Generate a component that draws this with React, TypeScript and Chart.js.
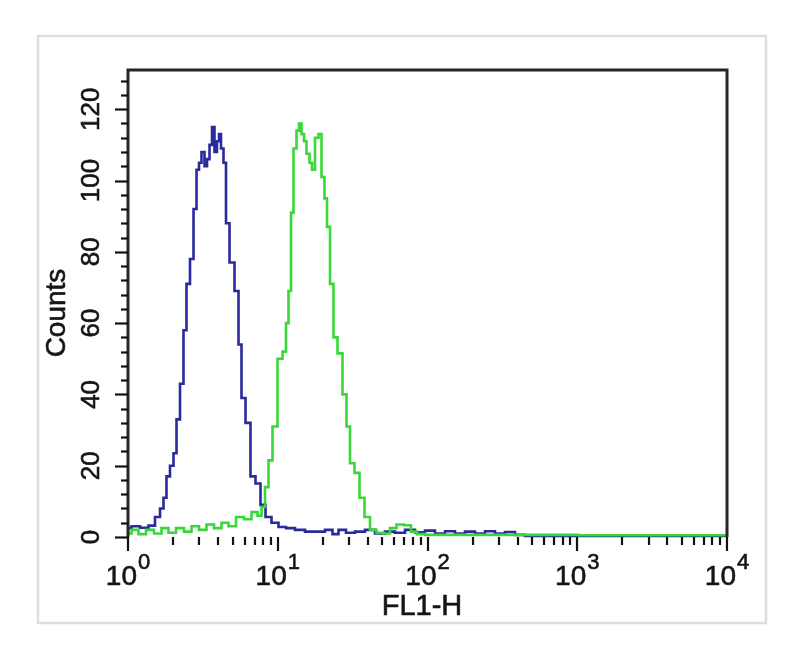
import React, { useEffect, useRef } from "react";
import { Chart, registerables } from "chart.js";

Chart.register(...registerables);

// FL1-H channel values (log axis) and counts
const blueX = [1.0, 1.114, 1.299, 1.446, 1.586, 1.687, 1.766, 1.849, 1.967, 2.06, 2.158, 2.294, 2.402, 2.516, 2.675, 2.803, 2.935, 3.026, 3.168, 3.318, 3.422, 3.584, 3.695, 3.869, 3.99, 4.115, 4.243, 4.444, 4.583, 4.95, 5.345, 5.597, 5.861, 6.329, 6.834, 7.381, 7.971, 8.607, 9.585, 10.68, 12.07, 14.08, 16.42, 19.15, 22.34, 24.12, 26.85, 30.38, 35.42, 41.3, 48.17, 56.18, 65.52, 76.4, 89.12, 103.9, 121.2, 141.4, 164.8, 192.2, 224.2, 261.5, 304.9, 355.6, 414.7, 483.7, 10000];
const blueY = [2.5, 3.0, 2.6, 3.2, 5.6, 8, 11, 17, 20, 23.5, 33, 43, 58, 71, 78, 92, 103, 105, 108, 104, 106, 110, 115, 108, 111, 113, 109, 105, 88, 77, 69, 54, 39, 32, 17, 15, 9, 5.6, 4, 2.8, 2.5, 2, 1.5, 1.5, 2, 0.8, 2, 1.2, 1.5, 2, 1, 1.5, 1.2, 2, 1.3, 1.8, 1, 1.6, 1, 1.5, 1, 1.6, 1, 1.4, 0.6, 0.3, 0.3];

const greenX = [1.0, 1.114, 1.24, 1.403, 1.586, 1.766, 1.967, 2.225, 2.516, 2.803, 3.168, 3.528, 3.99, 4.444, 4.95, 5.597, 6.329, 7.048, 7.612, 7.971, 8.477, 8.878, 9.585, 10.35, 11.18, 11.53, 12.07, 12.45, 13.04, 13.66, 14.08, 14.75, 15.21, 15.92, 16.67, 17.19, 18.29, 19.15, 20.05, 21.0, 21.66, 23.03, 24.12, 26.04, 28.12, 29.45, 31.32, 33.82, 36.53, 39.45, 43.26, 48.17, 53.64, 58.84, 65.52, 74.1, 81.25, 89.12, 103.9, 10000];
const greenY = [1, 2, 0.8, 2, 1, 2.5, 1.2, 2.5, 1.5, 3, 2, 3.5, 2.5, 4, 3, 5.6, 5, 7, 6, 8.4, 14, 21.5, 31, 50, 52, 60, 69, 91, 109, 114, 116, 113, 111, 107.5, 105, 103, 112, 113, 101, 95, 87, 71, 56, 51.5, 40, 31, 20.7, 18, 11, 5.6, 2, 1.2, 1, 2.5, 3.5, 3.3, 1.5, 0.8, 0.6, 0.5];

const xExponents = [0, 1, 2, 3, 4];
const yTickLabels = [0, 20, 40, 60, 80, 100, 120];
const yMinorStep = 4;
const yMax = 131;
const xTitle = "FL1-H";
const yTitle = "Counts";

const FONT = "'Liberation Sans', Arial, sans-serif";

function heavyText(ctx: CanvasRenderingContext2D, s: string, x: number, y: number) {
  ctx.fillText(s, x, y);
  ctx.strokeText(s, x, y);
}

const axesPlugin = {
  id: "flowAxes",
  beforeDraw(chart: any) {
    const ctx = chart.ctx;
    ctx.save();
    ctx.fillStyle = "#ffffff";
    ctx.fillRect(0, 0, chart.width, chart.height);
    ctx.strokeStyle = "#dedede";
    ctx.lineWidth = 2.5;
    ctx.strokeRect(38, 36, 728, 587);
    ctx.restore();
  },
  afterDraw(chart: any) {
    const ctx = chart.ctx;
    const { left, right, top, bottom } = chart.chartArea;
    const xs = chart.scales.x;
    const ys = chart.scales.y;
    ctx.save();
    // frame
    ctx.strokeStyle = "#262626";
    ctx.lineWidth = 3;
    ctx.beginPath();
    ctx.moveTo(left, bottom);
    ctx.lineTo(left, top);
    ctx.lineTo(right, top);
    ctx.lineTo(right, bottom);
    ctx.stroke();

    // y ticks
    ctx.lineWidth = 2.2;
    ctx.strokeStyle = "#111";
    for (let v = 0; v <= yMax - 2; v += yMinorStep) {
      const py = Math.round(ys.getPixelForValue(v)) + 0.5;
      const len = v % 20 === 0 ? 13 : 7;
      ctx.beginPath();
      ctx.moveTo(left - len, py);
      ctx.lineTo(left, py);
      ctx.stroke();
    }
    // x ticks
    for (let d = 0; d < xExponents.length; d++) {
      const e = xExponents[d];
      const maxM = e === 4 ? 1 : 9;
      for (let m = 1; m <= maxM; m++) {
        const val = m * Math.pow(10, e);
        const px = Math.round(xs.getPixelForValue(val));
        const len = m === 1 ? 14 : 8;
        ctx.beginPath();
        ctx.moveTo(px, bottom);
        ctx.lineTo(px, bottom + len);
        ctx.stroke();
      }
    }

    // y labels
    ctx.fillStyle = "#151515";
    ctx.strokeStyle = "#151515";
    ctx.lineWidth = 0.6;
    ctx.font = `26px ${FONT}`;
    ctx.textAlign = "center";
    ctx.textBaseline = "middle";
    for (const v of yTickLabels) {
      const py = ys.getPixelForValue(v);
      ctx.save();
      ctx.translate(91, py);
      ctx.rotate(-Math.PI / 2);
      heavyText(ctx, String(v), 0, 1);
      ctx.restore();
    }

    // x labels 10^n
    ctx.textBaseline = "alphabetic";
    ctx.textAlign = "left";
    for (const e of xExponents) {
      const px = xs.getPixelForValue(Math.pow(10, e));
      ctx.font = `28px ${FONT}`;
      const w1 = ctx.measureText("10").width;
      ctx.font = `22px ${FONT}`;
      const sup = String(e);
      const w2 = ctx.measureText(sup).width;
      const sx = px - (w1 + w2 + 1) / 2;
      ctx.font = `28px ${FONT}`;
      heavyText(ctx, "10", sx, 585);
      ctx.font = `22px ${FONT}`;
      heavyText(ctx, sup, sx + w1 + 1, 569);
    }

    // titles
    ctx.font = `29px ${FONT}`;
    ctx.textAlign = "center";
    heavyText(ctx, xTitle, 422, 615);
    ctx.save();
    ctx.translate(57, 313);
    ctx.rotate(-Math.PI / 2);
    ctx.font = `28px ${FONT}`;
    ctx.textBaseline = "middle";
    heavyText(ctx, yTitle, 0, 0);
    ctx.restore();

    ctx.restore();
  },
};

export default function App() {
  const ref = useRef<HTMLCanvasElement | null>(null);
  useEffect(() => {
    if (!ref.current) return;
    const chart = new Chart(ref.current, {
      type: "line",
      data: {
        datasets: [
          {
            label: "control",
            data: blueX.map((x, i) => ({ x, y: blueY[i] })),
            borderColor: "#2a2a9c",
            borderWidth: 2.6,
            pointRadius: 0,
            stepped: "middle",
            fill: false,
            order: 2,
            clip: 4,
          },
          {
            label: "sample",
            data: greenX.map((x, i) => ({ x, y: greenY[i] })),
            borderColor: "#38d838",
            borderWidth: 2.6,
            pointRadius: 0,
            stepped: "middle",
            fill: false,
            order: 1,
            clip: 4,
          },
        ],
      },
      options: {
        animation: false,
        responsive: false,
        devicePixelRatio: 1,
        layout: { padding: { left: 128, right: 73, top: 70, bottom: 119 } },
        plugins: { legend: { display: false }, tooltip: { enabled: false } },
        scales: {
          x: { type: "logarithmic", min: 1, max: 10000, display: false },
          y: { type: "linear", min: 0, max: yMax, display: false },
        },
      },
      plugins: [axesPlugin],
    });
    return () => chart.destroy();
  }, []);
  return (
    <div style={{ position: "absolute", left: 0, top: 0, width: 800, height: 656 }}>
      <canvas ref={ref} width={800} height={656} style={{ display: "block" }} />
    </div>
  );
}
